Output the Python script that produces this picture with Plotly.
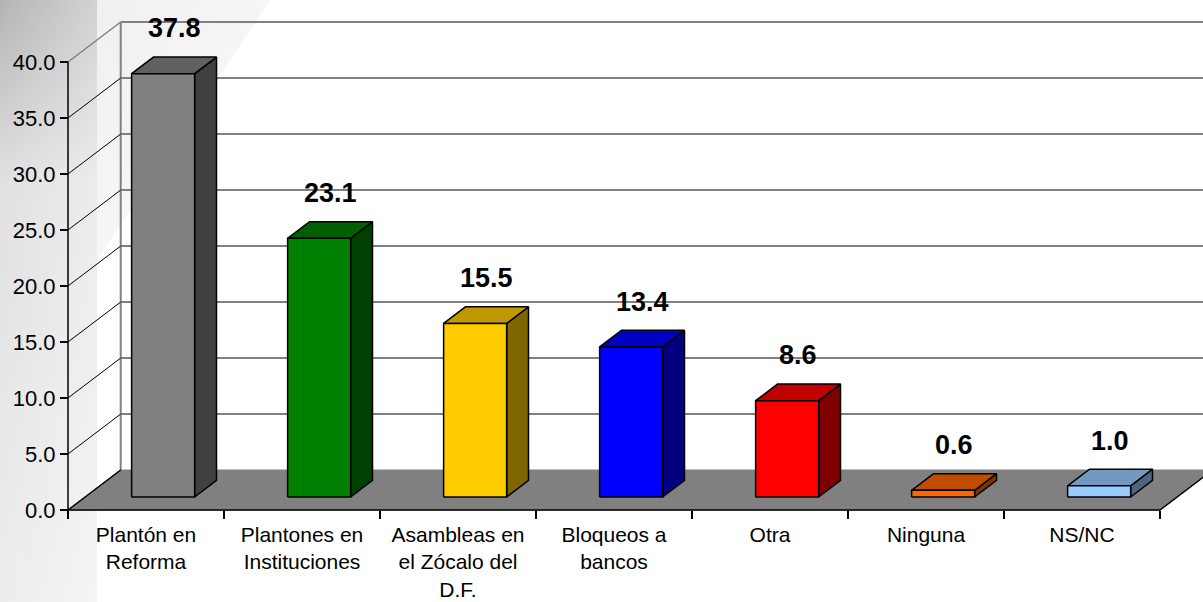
import base64
import plotly.graph_objects as go

# ---------------- data ----------------
categories = ["Plantón en<br>Reforma", "Plantones en<br>Instituciones",
              "Asambleas en<br>el Zócalo del<br>D.F.", "Bloqueos a<br>bancos",
              "Otra", "Ninguna", "NS/NC"]
values = [37.8, 23.1, 15.5, 13.4, 8.6, 0.6, 1.0]
value_labels = ["37.8", "23.1", "15.5", "13.4", "8.6", "0.6", "1.0"]
front_colors = ["#808080", "#008000", "#FFCC00", "#0000FF", "#FF0000", "#FF6600", "#99CCFF"]
top_colors = ["#606060", "#006000", "#C09900", "#0000C0", "#C00000", "#C04C00", "#7399C0"]
side_colors = ["#404040", "#004000", "#806600", "#000080", "#800000", "#803300", "#4D6680"]
y_ticks = [0, 5, 10, 15, 20, 25, 30, 35, 40]
y_tick_labels = ["0.0", "5.0", "10.0", "15.0", "20.0", "25.0", "30.0", "35.0", "40.0"]

# ---------------- geometry of the pseudo-3D scene ----------------
PX_X = 156.0      # pixels per category
PX_Y = 11.2       # pixels per value unit
DX = 52.7 / PX_X  # depth offset in x (category units)
DY = 40.0 / PX_Y  # depth offset in y (value units)
BAR_W = 0.404
FRONT = 0.325
BACK = 0.74
MID = (FRONT + BACK) / 2
YMAX = max(y_ticks)
NCAT = len(categories)

W, H = 1203, 602
PAD = 4
L = 68 - PAD
B = H - 510 - PAD
plot_w = W - L
plot_h = H - B
xr = [-PAD / PX_X, -PAD / PX_X + plot_w / PX_X]
yr = [-PAD / PX_Y, -PAD / PX_Y + plot_h / PX_Y]

FONT = "Liberation Sans, Arial, sans-serif"
fig = go.Figure()


def poly(xs, ys, fill, line_color="black", width=1.5):
    fig.add_trace(go.Scatter(x=xs + [xs[0]], y=ys + [ys[0]], mode="lines", fill="toself",
                             fillcolor=fill, line=dict(color=line_color, width=width),
                             hoverinfo="skip", showlegend=False))


def seg(xs, ys, color, width):
    fig.add_trace(go.Scatter(x=xs, y=ys, mode="lines", line=dict(color=color, width=width),
                             hoverinfo="skip", showlegend=False))


# back wall gridlines and left wall edge
for v in y_ticks[1:]:
    seg([DX, NCAT + DX + 1], [v + DY, v + DY], "#808080", 2)
seg([DX, DX], [DY, YMAX + DY], "#808080", 2)
# side wall diagonals
for v in y_ticks:
    seg([0, DX], [v, v + DY], "#808080" if v == YMAX else "black", 1.5 if v == YMAX else 1)

# floor
poly([0, NCAT, NCAT + DX, DX], [0, 0, DY, DY], "#808080", line_color="#808080", width=1)
seg([DX, 0, NCAT, NCAT + DX], [DY, 0, 0, DY], "black", 1.5)
# front value axis line
seg([0, 0], [0, YMAX], "black", 1.5)

# bars
for i, v in enumerate(values):
    c = i + 0.5
    xl = c - BAR_W / 2 + FRONT * DX
    xrt = c + BAR_W / 2 + FRONT * DX
    y0 = FRONT * DY
    dd = (BACK - FRONT)
    # side face
    poly([xrt, xrt + dd * DX, xrt + dd * DX, xrt],
         [y0, y0 + dd * DY, v + y0 + dd * DY, v + y0], side_colors[i])
    # top face
    poly([xl, xrt, xrt + dd * DX, xl + dd * DX],
         [v + y0, v + y0, v + y0 + dd * DY, v + y0 + dd * DY], top_colors[i])
    # front face
    poly([xl, xrt, xrt, xl], [y0, y0, v + y0, v + y0], front_colors[i])
    fig.add_annotation(x=c + MID * DX, y=v + MID * DY, text="<b>" + value_labels[i] + "</b>",
                       showarrow=False, yshift=37, xanchor="center", yanchor="middle",
                       font=dict(family=FONT, size=27, color="black"))

# background decoration (slide template)
svg = f"""<svg xmlns='http://www.w3.org/2000/svg' width='{W}' height='{H}'>
<defs>
<linearGradient id='v' x1='0' y1='0' x2='0' y2='1'>
<stop offset='0' stop-color='#b4b4b4'/>
<stop offset='0.3' stop-color='#e0e0e0'/>
<stop offset='1' stop-color='#ededed'/>
</linearGradient>
<linearGradient id='h' x1='0' y1='0' x2='1' y2='0'>
<stop offset='0' stop-color='#ffffff' stop-opacity='0'/>
<stop offset='1' stop-color='#ffffff' stop-opacity='0.4'/>
</linearGradient>
<linearGradient id='s' x1='0' y1='0' x2='1' y2='1'>
<stop offset='0' stop-color='#f0f0f0'/>
<stop offset='1' stop-color='#fbfbfb'/>
</linearGradient>
</defs>
<rect width='{W}' height='{H}' fill='#ffffff'/>
<polygon points='97,0 270,0 97,260' fill='url(#s)'/>
<rect x='0' y='0' width='97' height='{H}' fill='url(#v)'/>
<rect x='0' y='0' width='97' height='{H}' fill='url(#h)'/>
</svg>"""
uri = "data:image/svg+xml;base64," + base64.b64encode(svg.encode()).decode()
fig.add_layout_image(dict(source=uri, xref="paper", yref="paper", x=-L / plot_w, y=1,
                          sizex=W / plot_w, sizey=H / plot_h, xanchor="left", yanchor="top",
                          sizing="stretch", layer="below"))

fig.update_layout(
    width=W, height=H, margin=dict(l=L, r=0, t=0, b=B),
    paper_bgcolor="white", plot_bgcolor="rgba(0,0,0,0)",
    showlegend=False,
    font=dict(family=FONT, color="black"),
    xaxis=dict(range=xr, tickmode="array", tickvals=[i + 0.5 for i in range(NCAT)],
               ticktext=categories, ticks="", showgrid=False, zeroline=False, showline=False,
               anchor="free", position=PAD / plot_h,
               minor=dict(tickmode="array", tickvals=list(range(NCAT + 1)), ticks="outside",
                          ticklen=8, tickcolor="black", tickwidth=1.5, showgrid=False),
               ticklabelstandoff=10,
               tickfont=dict(family=FONT, size=21, color="black"), fixedrange=True),
    yaxis=dict(range=yr, tickmode="array", tickvals=y_ticks, ticktext=y_tick_labels,
               ticks="outside", ticklen=8, tickcolor="black", tickwidth=1.5,
               showgrid=False, zeroline=False, showline=False,
               anchor="free", position=PAD / plot_w,
               tickfont=dict(family=FONT, size=22, color="black"), fixedrange=True),
)

fig.write_html("out.html", config={"displayModeBar": False},
               post_script="document.body.style.margin='0';document.body.style.overflow='hidden';")
